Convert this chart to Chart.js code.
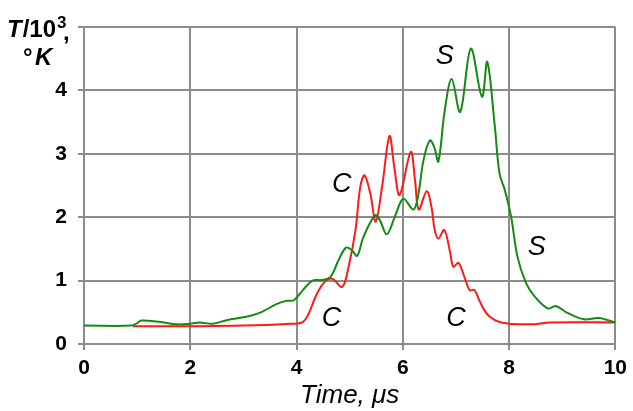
<!DOCTYPE html>
<html>
<head>
<meta charset="utf-8">
<script src="https://cdn.jsdelivr.net/npm/chart.js@4.4.1/dist/chart.umd.min.js"></script>
<style>html,body{margin:0;padding:0;background:#fff}</style>
</head>
<body>
<canvas id="chart" width="633" height="411"></canvas>
<script>
// S curve (green)
const sTime = [0, 0.9, 1.0, 1.08, 1.42, 1.74, 2.0, 2.17, 2.42, 2.7, 3.05, 3.33, 3.6, 3.8, 3.95, 4.12, 4.3, 4.48, 4.64, 4.79, 4.93, 5.04, 5.14, 5.26, 5.48, 5.57, 5.70, 5.86, 6.01, 6.20, 6.29, 6.39, 6.51, 6.59, 6.67, 6.79, 6.92, 7.08, 7.28, 7.49, 7.59, 7.73, 7.82, 7.92, 8.04, 8.16, 8.32, 8.48, 8.73, 8.88, 9.10, 9.41, 9.69, 10];
const sTemp = [0.29, 0.29, 0.33, 0.37, 0.35, 0.31, 0.32, 0.34, 0.32, 0.38, 0.43, 0.50, 0.62, 0.68, 0.69, 0.85, 1.00, 1.01, 1.06, 1.32, 1.52, 1.48, 1.39, 1.69, 2.03, 1.95, 1.73, 2.03, 2.29, 2.12, 2.35, 2.90, 3.21, 3.11, 2.88, 3.69, 4.18, 3.66, 4.66, 3.90, 4.45, 3.45, 2.69, 2.43, 2.00, 1.37, 0.96, 0.75, 0.56, 0.60, 0.49, 0.39, 0.41, 0.34];

// C curve (red)
const cTime = [0.92, 1.5, 2.0, 3.0, 3.9, 4.11, 4.23, 4.36, 4.51, 4.67, 4.86, 4.98, 5.11, 5.20, 5.28, 5.39, 5.49, 5.61, 5.75, 5.84, 5.94, 6.15, 6.23, 6.30, 6.45, 6.54, 6.60, 6.67, 6.78, 6.89, 6.95, 7.05, 7.17, 7.26, 7.35, 7.45, 7.60, 7.85, 8.38, 8.78, 10];
const cTemp = [0.28, 0.28, 0.28, 0.29, 0.32, 0.34, 0.48, 0.75, 0.96, 1.03, 0.90, 1.22, 1.80, 2.48, 2.66, 2.37, 1.93, 2.48, 3.28, 2.79, 2.35, 3.03, 2.58, 2.12, 2.41, 2.16, 1.80, 1.66, 1.80, 1.45, 1.22, 1.28, 1.03, 0.85, 0.85, 0.67, 0.46, 0.34, 0.31, 0.34, 0.34];

const curveLabels = [
  { text: 'C', x: 4.85, y: 2.52 },
  { text: 'C', x: 4.66, y: 0.41 },
  { text: 'C', x: 7.00, y: 0.41 },
  { text: 'S', x: 6.79, y: 4.53 },
  { text: 'S', x: 8.52, y: 1.52 }
];

const FONT = '"Liberation Sans", Arial, sans-serif';
const GRID = '#8c8c8c';

const toPoints = (xs, ys) => xs.map((x, i) => ({ x: x, y: ys[i] }));

const textPlugin = {
  id: 'texts',
  afterDraw(chart) {
    const ctx = chart.ctx;
    const xs = chart.scales.x, ys = chart.scales.y;
    ctx.save();
    ctx.fillStyle = '#000';
    // curve letters
    ctx.font = 'italic 27px ' + FONT;
    ctx.textAlign = 'center';
    ctx.textBaseline = 'middle';
    curveLabels.forEach(l => {
      ctx.fillText(l.text, xs.getPixelForValue(l.x), ys.getPixelForValue(l.y));
    });
    // x axis title
    ctx.font = 'italic 26px ' + FONT;
    ctx.textBaseline = 'alphabetic';
    ctx.fillText('Time, \u03bcs', (chart.chartArea.left + chart.chartArea.right) / 2, 403);
    // y axis title: T/10^3, °K
    ctx.textAlign = 'left';
    let x = 7;
    ctx.font = 'italic bold 24px ' + FONT;
    ctx.fillText('T', x, 37);
    x += ctx.measureText('T').width + 1;
    ctx.font = 'bold 24px ' + FONT;
    ctx.fillText('/10', x, 37);
    x += ctx.measureText('/10').width + 1;
    ctx.font = 'bold 17px ' + FONT;
    ctx.fillText('3', x, 28);
    ctx.font = 'bold 24px ' + FONT;
    ctx.fillText(',', x + 6, 40);
    ctx.fillText('\u00b0', 23, 65);
    ctx.font = 'italic bold 24px ' + FONT;
    ctx.fillText('K', 35, 65);
    ctx.restore();
  }
};

new Chart(document.getElementById('chart'), {
  type: 'line',
  data: {
    datasets: [
      {
        label: 'S',
        data: toPoints(sTime, sTemp),
        borderColor: '#138a13',
        borderWidth: 2,
        pointRadius: 0,
        tension: 0.35,
        fill: false
      },
      {
        label: 'C',
        data: toPoints(cTime, cTemp),
        borderColor: '#ff1a1a',
        borderWidth: 2,
        pointRadius: 0,
        tension: 0.35,
        fill: false
      }
    ]
  },
  options: {
    responsive: false,
    animation: false,
    devicePixelRatio: 1,
    layout: { padding: { top: 27, right: 15, left: 0, bottom: 0 } },
    plugins: { legend: { display: false }, tooltip: { enabled: false } },
    scales: {
      x: {
        type: 'linear',
        min: 0, max: 10,
        afterFit: s => { s.height = 67; },
        ticks: { stepSize: 2, padding: 6, color: '#000', font: { family: FONT, size: 21, weight: 'bold' } },
        grid: { color: GRID, lineWidth: 2, tickLength: 6, drawTicks: true },
        border: { display: true, color: GRID, width: 2 }
      },
      y: {
        min: 0, max: 5,
        afterFit: s => { s.width = 84; },
        ticks: {
          stepSize: 1, padding: 11, color: '#000',
          font: { family: FONT, size: 21, weight: 'bold' },
          callback: v => (v === 5 ? '' : v)
        },
        grid: { color: GRID, lineWidth: 2, tickLength: 6, drawTicks: true },
        border: { display: true, color: GRID, width: 2 }
      }
    }
  },
  plugins: [textPlugin]
});
</script>
</body>
</html>
